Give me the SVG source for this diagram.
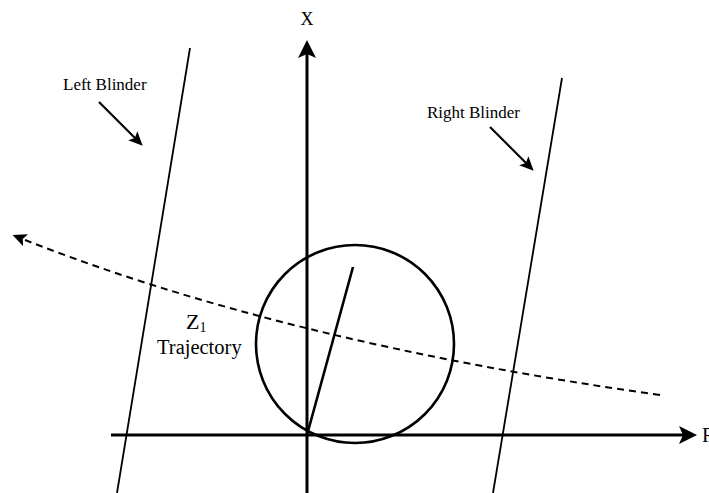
<svg xmlns="http://www.w3.org/2000/svg" width="709" height="493" viewBox="0 0 709 493">
<style>
.lbl{font-family:"Liberation Serif","Times New Roman",serif;fill:#000}
.ax{stroke:#000;stroke-width:3;fill:none}
.bl{stroke:#000;stroke-width:1.8;fill:none}
.ptr{stroke:#000;stroke-width:2.2;fill:none}
</style>
<defs>
<marker id="axArrow" markerUnits="userSpaceOnUse" markerWidth="20" markerHeight="20" refX="8" refY="9" orient="auto">
<path d="M0,0 L18,9 L0,18 L4,9 z" fill="#000"/>
</marker>
<marker id="ptrArrow" markerUnits="userSpaceOnUse" markerWidth="16" markerHeight="16" refX="6" refY="6.5" orient="auto">
<path d="M0,0 L14,6.5 L0,13 L3,6.5 z" fill="#000"/>
</marker>
<marker id="trajArrow" markerUnits="userSpaceOnUse" markerWidth="16" markerHeight="16" refX="6" refY="6.5" orient="auto">
<path d="M0,0 L14,6.5 L0,13 L3,6.5 z" fill="#000"/>
</marker>
</defs>
<g id="connectors">
<line id="x-axis" class="ax" x1="307" y1="493" x2="307" y2="50" marker-end="url(#axArrow)"/>
<line id="r-axis" class="ax" x1="111" y1="435" x2="687" y2="435" marker-end="url(#axArrow)"/>
<line id="left-blinder" class="bl" x1="190" y1="48" x2="117" y2="493"/>
<line id="right-blinder" class="bl" x1="562" y1="78" x2="493" y2="493"/>
<line id="left-pointer" class="ptr" x1="99" y1="102" x2="137" y2="140" marker-end="url(#ptrArrow)"/>
<line id="right-pointer" class="ptr" x1="490" y1="127" x2="528" y2="165" marker-end="url(#ptrArrow)"/>
<path id="trajectory" d="M660,395 Q282,342 20,238" stroke="#000" stroke-width="2" fill="none" stroke-dasharray="7,5" marker-end="url(#trajArrow)"/>
</g>
<g id="characteristic">
<circle cx="355" cy="344" r="99" fill="none" stroke="#000" stroke-width="2.6"/>
<line x1="307" y1="435" x2="353" y2="267" stroke="#000" stroke-width="2.6"/>
</g>
<g id="label-x"><text class="lbl" x="307" y="25" font-size="18" text-anchor="middle">X</text></g>
<g id="label-r"><text class="lbl" x="702" y="442" font-size="20">R</text></g>
<g id="label-left-blinder"><text class="lbl" x="63" y="90" font-size="17">Left Blinder</text></g>
<g id="label-right-blinder"><text class="lbl" x="427" y="118" font-size="17">Right Blinder</text></g>
<g id="label-trajectory">
<text class="lbl" x="186" y="329" font-size="22">Z<tspan font-size="14" dy="3">1</tspan></text>
<text class="lbl" x="157" y="354" font-size="20.5">Trajectory</text>
</g>
</svg>
